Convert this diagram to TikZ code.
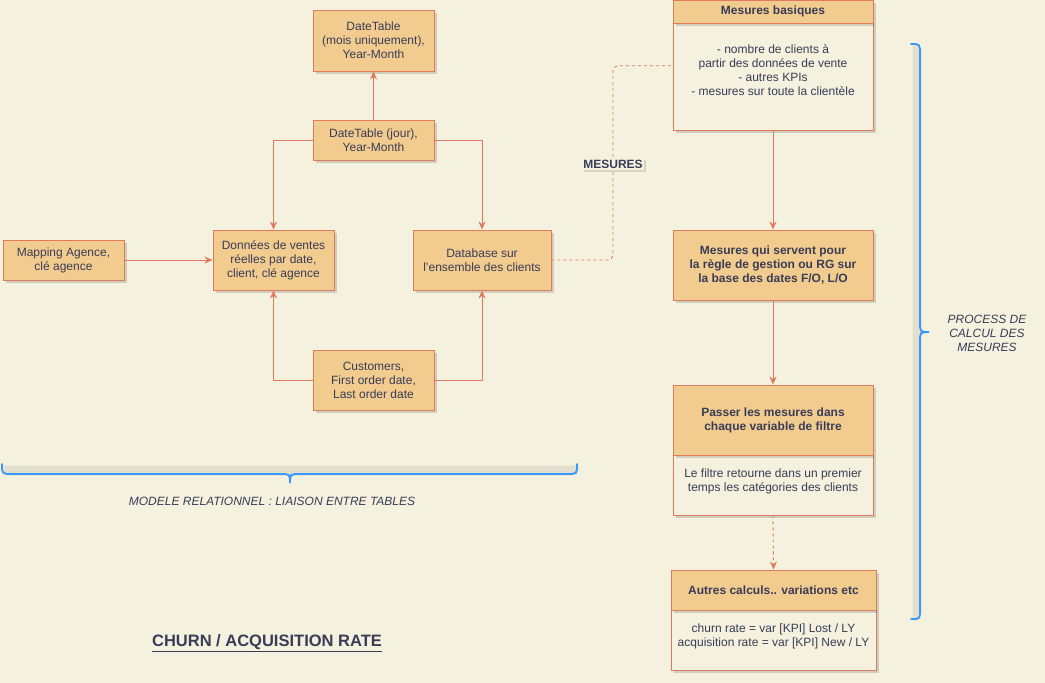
\documentclass[tikz,border=0pt]{standalone}
\usepackage{fontspec}
\setmainfont{Liberation Sans}
\usetikzlibrary{arrows.meta,shadows}
\definecolor{bgc}{HTML}{F4F1DE}
\definecolor{boxfill}{HTML}{F2CC8F}
\definecolor{boxline}{HTML}{E07A5F}
\definecolor{txtc}{HTML}{393C56}
\definecolor{bracec}{HTML}{3399FF}
\tikzset{
  base/.style={draw=boxline, line width=0.9pt, text=txtc, align=center, inner sep=0pt,
    font=\fontsize{12}{14}\selectfont,
    drop shadow={shadow xshift=2.5pt, shadow yshift=-2.5pt, opacity=0.15, fill=black}},
  tbox/.style={base, fill=boxfill},
  bbox/.style={base, fill=bgc},
  plain/.style={text=txtc, align=center, inner sep=0pt, font=\fontsize{12}{14}\selectfont},
  arr/.style={draw=boxline, line width=0.9pt, -{Stealth[length=8pt,width=7pt,inset=2.5pt]}},
  dashline/.style={draw=boxline, line width=0.9pt, dash pattern=on 3pt off 3pt},
  bracel/.style={draw=bracec, line width=1.8pt, line cap=round,
    drop shadow={shadow xshift=1.5pt, shadow yshift=-1.5pt, opacity=0.07, fill=black}},
}
\begin{document}
\begin{tikzpicture}[x=1pt,y=-1pt]
\useasboundingbox[fill=bgc] (0,0) rectangle (1045,683);

% left relational model
\node[tbox, minimum width=121pt, minimum height=61pt] (dt) at (373.5,40.5) {DateTable\\(mois uniquement),\\Year-Month};
\node[tbox, minimum width=121pt, minimum height=40pt] (jour) at (373.5,140) {DateTable (jour),\\Year-Month};
\node[tbox, minimum width=121pt, minimum height=40pt] (map) at (63.5,260) {Mapping Agence,\\clé agence};
\node[tbox, minimum width=121pt, minimum height=60pt] (don) at (273.5,260) {Données de ventes\\réelles par date,\\client, clé agence};
\node[tbox, minimum width=138pt, minimum height=60pt] (db) at (482,260) {Database sur\\l'ensemble des clients};
\node[tbox, minimum width=121pt, minimum height=60pt] (cust) at (373.5,380) {Customers,\\First order date,\\Last order date};

\draw[arr] (jour.north) -- (dt.south);
\draw[arr] (jour.west) -| (don.north);
\draw[arr] (jour.east) -| (db.north);
\draw[arr] (map.east) -- (don.west);
\draw[arr] (cust.west) -| (don.south);
\draw[arr] (cust.east) -| (db.south);

% right process
\node[bbox, minimum width=200pt, minimum height=107pt] (mbb) at (773,76.5) {};
\node[tbox, minimum width=200pt, minimum height=23pt, font=\fontsize{12}{14}\selectfont\bfseries] (mbh) at (773,11.5) {Mesures basiques};
\node[plain] (mbt) at (773,70) {- nombre de clients à\\partir des données de vente\\- autres KPIs\\- mesures sur toute la clientèle};

\node[tbox, minimum width=200pt, minimum height=70pt, font=\fontsize{12}{14}\selectfont\bfseries] (mqs) at (773,265) {Mesures qui servent pour\\la règle de gestion ou RG sur\\la base des dates F/O, L/O};

\node[bbox, minimum width=200pt, minimum height=60pt] (pab) at (773,485) {};
\node[tbox, minimum width=200pt, minimum height=70pt, font=\fontsize{12}{14}\selectfont\bfseries] (pah) at (773,420) {Passer les mesures dans\\chaque variable de filtre};
\node[plain] (pat) at (773,481) {Le filtre retourne dans un premier\\temps les catégories des clients};

\node[bbox, minimum width=205pt, minimum height=60pt] (aub) at (773.5,640) {};
\node[tbox, minimum width=205pt, minimum height=40pt, font=\fontsize{12}{14}\selectfont\bfseries] (auh) at (773.5,590) {Autres calculs.. variations etc};
\node[plain] (aut) at (773.5,636) {churn rate = var [KPI] Lost / LY\\acquisition rate = var [KPI] New / LY};

\draw[arr] (mbb.south) -- (mqs.north);
\draw[arr] (mqs.south) -- (pah.north);
\draw[arr, dash pattern=on 3pt off 3pt] (pab.south) -- (auh.north);

% dashed link
\coordinate (dk) at (613,65.7);
\coordinate (dj) at (613,260);
\draw[dashline, rounded corners=5pt] (db.east) -- (dj) -- (dk) -- (mbb.west |- dk);
\node[fill=bgc, text=txtc, inner sep=1.5pt, font=\fontsize{12}{14}\selectfont\bfseries,
  drop shadow={shadow xshift=2pt, shadow yshift=-2pt, opacity=0.12, fill=black}] (mes) at (613,164) {MESURES};

% braces
\draw[bracel] (2,464) .. controls (2,474) .. (12,474) -- (280,474) .. controls (290,474) .. (290,483)
  .. controls (290,474) .. (300,474) -- (567,474) .. controls (577,474) .. (577,464);
\node[plain, font=\fontsize{12}{14}\selectfont\itshape] (mrl) at (272,501) {MODELE RELATIONNEL : LIAISON ENTRE TABLES};

\draw[bracel] (911,44) .. controls (920,44) .. (920,54) -- (920,322) .. controls (920,332) .. (929,332)
  .. controls (920,332) .. (920,342) -- (920,609) .. controls (920,619) .. (911,619);
\node[plain, font=\fontsize{12}{14}\selectfont\itshape] (pcm) at (987,333) {PROCESS DE\\CALCUL DES\\MESURES};

\node[plain, font=\fontsize{16.5}{18}\selectfont\bfseries] (title) at (267,643) {\underline{CHURN / ACQUISITION RATE}};
\end{tikzpicture}
\end{document}
